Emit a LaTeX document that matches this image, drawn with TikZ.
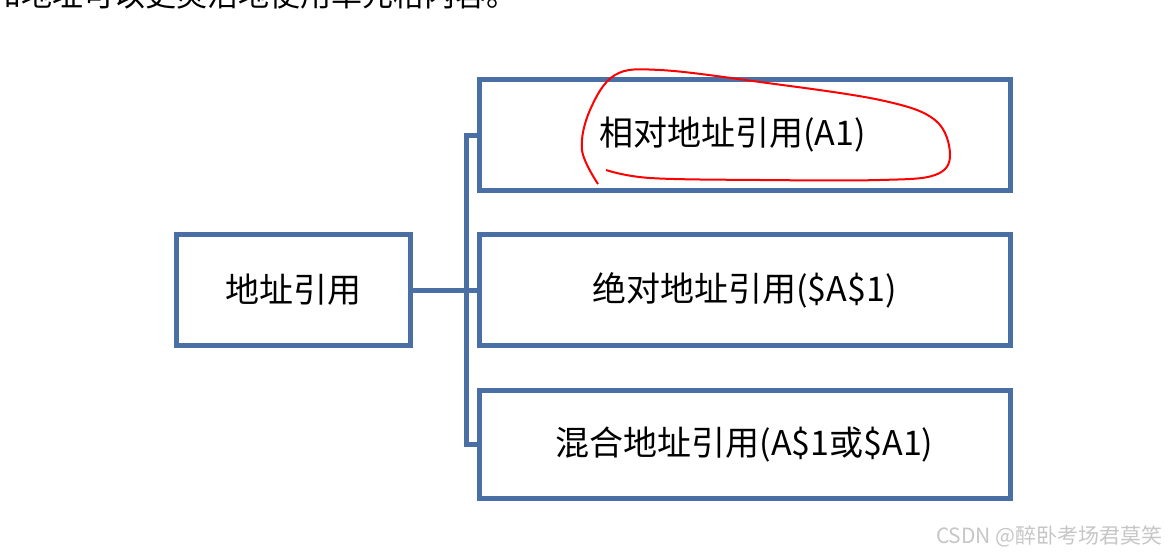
\documentclass[tikz,border=0pt]{standalone}
\usepackage{fontspec}
\setmainfont{Noto Sans CJK SC}
\begin{document}
\begin{tikzpicture}[x=0.5pt,y=-0.5pt,
  box/.style={draw=boxblue,line width=2.5pt,minimum width=#1,inner sep=0pt},
  conn/.style={draw=boxblue,line width=2.5pt},
  lbl/.style={font=\fontsize{17}{19}\selectfont}]
\definecolor{boxblue}{HTML}{4A6FA5}
\useasboundingbox (0,0) rectangle (1170,556);
\clip (0,0) rectangle (1170,556);
\node[anchor=west,font=\fontsize{15.5}{17}\selectfont,inner sep=0pt] (top) at (-10,-5) {和地址可以更灵活地使用单元格内容。};
\node[box=117pt,minimum height=55.5pt,lbl] (root) at (293,290) {地址引用};
\node[box=265.5pt,minimum height=55pt,lbl] (a) at (744.5,135) {\hspace*{-12pt}相对地址引用(A1)};
\node[box=265.5pt,minimum height=55.5pt,lbl] (b) at (744.5,290) {绝对地址引用(\$A\$1)};
\node[box=265.5pt,minimum height=54pt,lbl] (c) at (744.5,444) {混合地址引用(A\$1或\$A1)};
\coordinate (j) at (466,290);
\draw[conn] (root.east) -- (j);
\draw[conn] (a.west) -| (j) |- (c.west);
\draw[conn] (j) -- (b.west);
\draw[red,line width=1pt] plot[smooth,tension=0.6] coordinates {(598,184) (582,150) (590,110) (615,75) (660,70) (760,82) (880,100) (935,120) (950,155) (935,175) (880,180) (760,180) (650,178) (606,170)};
\node[text=gray!45,font=\fontsize{10.5}{12}\selectfont,anchor=east,inner sep=0pt] (wm) at (1163,536) {CSDN @醉卧考场君莫笑};
\end{tikzpicture}
\end{document}
